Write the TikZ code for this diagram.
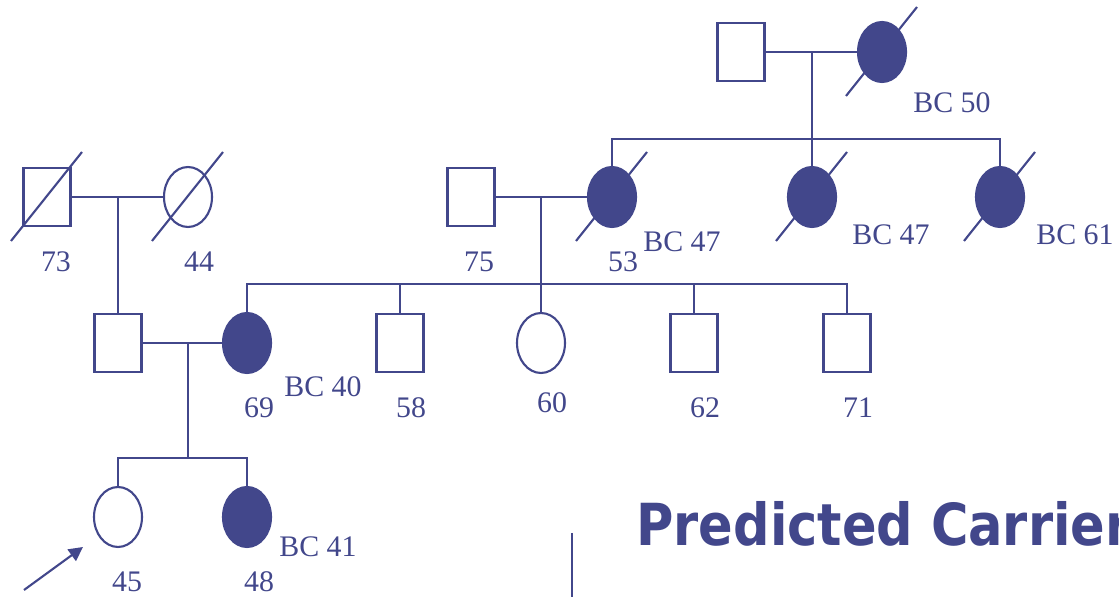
\documentclass[tikz,border=0pt]{standalone}
\usepackage{fontspec}
\setmainfont{Liberation Serif}
\newfontfamily\titlefont[FakeStretch=0.88]{DejaVu Sans}
\usetikzlibrary{shapes.geometric,arrows.meta}
\definecolor{ink}{HTML}{42478B}
\tikzset{
  base/.style={draw=ink, line width=1.2pt},
  male/.style={rectangle, draw=ink, line width=1.2pt, fill=white, minimum width=0.94cm, minimum height=1.16cm, inner sep=0pt},
  female/.style={ellipse, draw=ink, line width=1.2pt, fill=white, minimum width=0.96cm, minimum height=1.2cm, inner sep=0pt},
  aff/.style={fill=ink},
  lab/.style={text=ink, font=\fontsize{17}{20}\selectfont, inner sep=0pt, anchor=base},
  labr/.style={lab, anchor=base west},
  ttl/.style={text=ink, font=\titlefont\bfseries\fontsize{33}{40}\selectfont, inner sep=0pt, anchor=base west},
}

\begin{document}
\begin{tikzpicture}[x=0.02cm, y=-0.02cm]
  \useasboundingbox (0,0) rectangle (1119,597);
  % first generation
  \node[male] (gm) at (741,52) {};
  \node[female,aff] (gf) at (882,52) {};
  \coordinate (c0) at (812,52);
  % second generation
  \node[male] (m73) at (47,197) {};
  \node[female] (f44) at (188,197) {};
  \coordinate (c1) at (118,197);
  \node[male] (m75) at (471,197) {};
  \node[female,aff] (f53) at (612,197) {};
  \coordinate (c2) at (541,197);
  \node[female,aff] (f47) at (812,197) {};
  \node[female,aff] (f61) at (1000,197) {};
  % third generation
  \node[male] (m3) at (118,343) {};
  \node[female,aff] (f69) at (247,343) {};
  \coordinate (c3) at (188,343);
  \node[male] (m58) at (400,343) {};
  \node[female] (f60) at (541,343) {};
  \node[male] (m62) at (694,343) {};
  \node[male] (m71) at (847,343) {};
  % fourth generation
  \node[female] (f45) at (118,517) {};
  \node[female,aff] (f48) at (247,517) {};
  \coordinate (c4) at (188,459);

  \draw[base] (gm) -- (gf);
  \draw[base] (c0) -- (f47.north);
  \draw[base] (f53.north) -- ++(0,-27) -| (f61.north);
  \draw[base] (m73) -- (f44);
  \draw[base] (m75) -- (f53);
  \draw[base] (c1) -- (m3.north);
  \draw[base] (c2) -- (f60.north);
  \draw[base] (f69.north) -- ++(0,-28) -| (m71.north);
  \foreach \n in {m58,m62} \draw[base] (\n.north) -- ++(0,-29);
  \draw[base] (m3) -- (f69);
  \draw[base] (c3) -- (c4);
  \draw[base] (f45.north) -- ++(0,-28) -| (f48.north);
  \foreach \n in {gf,f53,f47,f61,m73,f44}
    \draw[base] ([shift={(-36,44)}]\n.center) -- ([shift={(35,-45)}]\n.center);

  % proband arrow
  \coordinate (pb) at (24,590);
  \draw[base, -{Triangle[length=8pt,width=8pt]}] (pb) -- ([shift={(-35,30)}]f45.center);

  \node[labr] (a50) at (913,113) {BC 50};
  \node[lab] (t73) at (56,272) {73};
  \node[lab] (t44) at (199,272) {44};
  \node[lab] (t75) at (479,272) {75};
  \node[lab] (t53) at (623,272) {53};
  \node[labr] (a47a) at (643,252) {BC 47};
  \node[labr] (a47b) at (852,245) {BC 47};
  \node[labr] (a61) at (1036,245) {BC 61};
  \node[lab] (t69) at (259,418) {69};
  \node[labr] (a40) at (284,397) {BC 40};
  \node[lab] (t58) at (411,418) {58};
  \node[lab] (t60) at (552,413) {60};
  \node[lab] (t62) at (705,418) {62};
  \node[lab] (t71) at (858,418) {71};
  \node[lab] (t45) at (127,591) {45};
  \node[lab] (t48) at (259,591) {48};
  \node[labr] (a41) at (279,557) {BC 41};

  \coordinate (v1) at (572,533);
  \coordinate (v2) at (572,597);
  \draw[base] (v1) -- (v2);
  \node[ttl] (title) at (636,545) {Predicted Carrier};
\end{tikzpicture}
\end{document}
